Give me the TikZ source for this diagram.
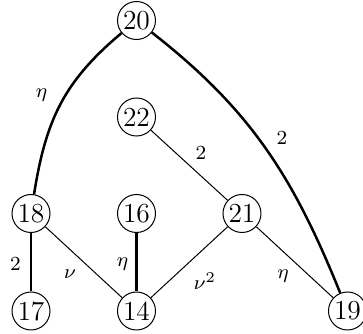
\documentclass[tikz,border=0pt]{standalone}
\begin{document}
\begin{tikzpicture}[x=0.4pt,y=-0.4pt,
  vtx/.style={circle,draw,line width=0.4pt,inner sep=0pt,minimum size=15.2pt,font=\fontsize{11}{13}\selectfont},
  thin edge/.style={line width=0.4pt},
  thick edge/.style={line width=1pt},
  lab/.style={font=\footnotesize,inner sep=0pt}]
\useasboundingbox (0,0) rectangle (363,334);
\node[vtx] (n20) at (136.5,20.5) {20};
\node[vtx] (n22) at (136.5,117) {22};
\node[vtx] (n18) at (31,213.5) {18};
\node[vtx] (n16) at (136.5,213.5) {16};
\node[vtx] (n21) at (242,213.5) {21};
\node[vtx] (n17) at (31,311) {17};
\node[vtx] (n14) at (136.5,311) {14};
\node[vtx] (n19) at (347.5,311) {19};
\draw[thick edge] (n20) to[out=-140,in=81,looseness=1.05] (n18);
\draw[thick edge] (n20) to[out=-38,in=112] (n19);
\draw[thin edge] (n22) -- (n21);
\draw[thick edge] (n18) -- (n17);
\draw[thin edge] (n18) -- (n14);
\draw[thick edge] (n16) -- (n14);
\draw[thin edge] (n21) -- (n14);
\draw[thin edge] (n21) -- (n19);
\node[lab] (l1) at (41.5,95) {$\eta$};
\node[lab] (l2) at (282,138) {$2$};
\node[lab] (l3) at (201,153) {$2$};
\node[lab] (l4) at (15.5,264) {$2$};
\node[lab] (l5) at (70,274) {$\nu$};
\node[lab] (l6) at (122.5,264) {$\eta$};
\node[lab] (l7) at (205,281) {$\nu^2$};
\node[lab] (l8) at (283,276) {$\eta$};
\end{tikzpicture}
\end{document}
